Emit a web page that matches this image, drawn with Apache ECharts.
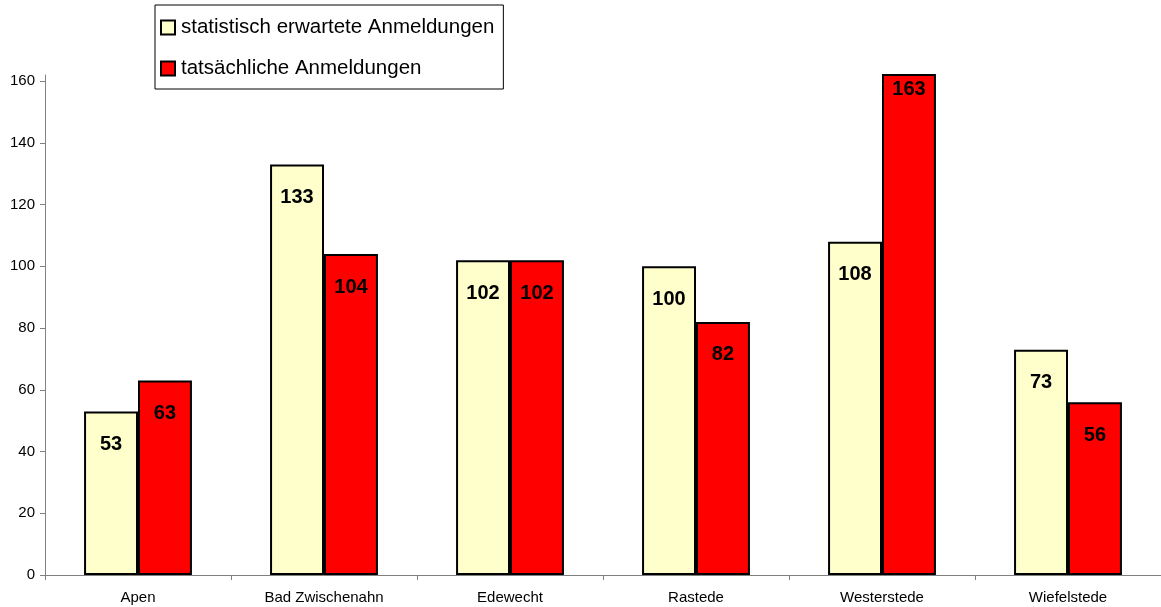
<!DOCTYPE html>
<html>
<head>
<meta charset="utf-8">
<script src="https://cdn.jsdelivr.net/npm/echarts@6/dist/echarts.min.js"></script>
<style>
  html, body { margin: 0; padding: 0; background: #fff; }
  #main { width: 1161px; height: 607px; }
</style>
</head>
<body>
<div id="main"></div>
<script>
// Gemeinden und Anmeldungen
var categories = ['Apen', 'Bad Zwischenahn', 'Edewecht', 'Rastede', 'Westerstede', 'Wiefelstede'];
var erwartet = [53, 133, 102, 100, 108, 73];
var tatsaechlich = [63, 104, 102, 82, 163, 56];
var yTicks = [0, 20, 40, 60, 80, 100, 120, 140, 160];
var yMax = 162; // Achse endet knapp über 160, höhere Balken werden abgeschnitten

var chart = echarts.init(document.getElementById('main'));

var barLabel = {
    show: true,
    position: 'insideTop',
    distance: 23,
    color: '#000',
    fontSize: 20,
    fontWeight: 'bold',
    fontFamily: 'Liberation Sans, Arial, sans-serif'
};

// abgeschnittene Balken: Beschriftung näher an den oberen Rand
function toItems(arr) {
    return arr.map(function (v) {
        if (v > yMax) return { value: v, label: { distance: 5 } };
        return v;
    });
}

chart.setOption({
    animation: false,
    textStyle: { fontFamily: 'Liberation Sans, Arial, sans-serif' },
    legend: {
        orient: 'vertical',
        left: 155,
        top: 5,
        padding: [12, 9, 10, 5],
        itemGap: 20,
        itemWidth: 14,
        itemHeight: 14,
        borderColor: '#000',
        borderWidth: 1,
        icon: 'rect',
        itemStyle: { borderColor: '#000', borderWidth: 2 },
        textStyle: { fontSize: 20.5, color: '#000', padding: [0, 0, 0, 1] },
        data: ['statistisch erwartete Anmeldungen', 'tatsächliche Anmeldungen']
    },
    grid: {
        left: 45,
        right: 0,
        top: 75,
        bottom: 32
    },
    xAxis: {
        type: 'category',
        data: categories,
        axisLine: { lineStyle: { color: '#808080', width: 1 } },
        axisTick: { show: true, length: 5, lineStyle: { color: '#808080' } },
        axisLabel: { color: '#000', fontSize: 15, margin: 15 }
    },
    yAxis: {
        type: 'value',
        min: yTicks[0],
        max: yMax,
        splitLine: { show: false },
        axisLine: { show: true, lineStyle: { color: '#808080', width: 1 } },
        axisTick: { show: true, length: 5, customValues: yTicks, lineStyle: { color: '#808080' } },
        axisLabel: { color: '#000', fontSize: 15, margin: 10, customValues: yTicks }
    },
    series: [
        {
            name: 'statistisch erwartete Anmeldungen',
            type: 'bar',
            data: toItems(erwartet),
            barGap: '0%',
            barCategoryGap: '42%',
            itemStyle: { color: '#FFFFCC', borderColor: '#000', borderWidth: 2 },
            label: barLabel
        },
        {
            name: 'tatsächliche Anmeldungen',
            type: 'bar',
            data: toItems(tatsaechlich),
            itemStyle: { color: '#FF0000', borderColor: '#000', borderWidth: 2 },
            label: barLabel
        }
    ]
});
</script>
</body>
</html>
